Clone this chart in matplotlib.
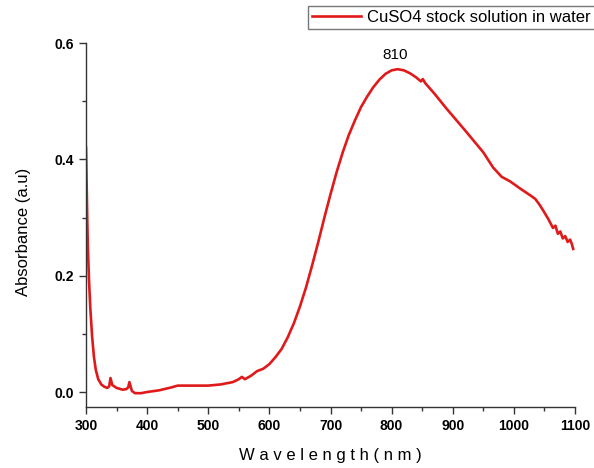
import numpy as np
import matplotlib
matplotlib.use("Agg")
import matplotlib.pyplot as plt
from matplotlib.ticker import MultipleLocator, FormatStrFormatter

plt.rcParams['font.family'] = ['Liberation Sans', 'DejaVu Sans']

# UV-Vis spectrum
wavelength = [300, 301, 302, 303, 305, 307, 310, 313, 316, 320, 325, 330, 335, 338, 340, 343,
              350, 360, 366, 369, 371, 375, 380, 390, 400, 420, 440, 450, 460, 480, 500,
              520, 540, 550, 555, 560, 570, 580, 590, 600, 610, 620, 630, 640, 650, 660,
              670, 680, 690, 700, 710, 720, 730, 740, 750, 760, 770, 780, 790, 800, 810,
              820, 830, 840, 848, 851, 855, 870, 890, 920, 950, 966, 980, 994, 1010,
              1027, 1035, 1042, 1048, 1056, 1060, 1064, 1068, 1072, 1076, 1080, 1084, 1088,
              1092, 1095, 1097]
absorbance = [0.420, 0.36, 0.30, 0.25, 0.19, 0.145, 0.095, 0.060, 0.038, 0.022, 0.013, 0.009,
              0.007, 0.010, 0.024, 0.012, 0.007, 0.004, 0.005, 0.008, 0.017, 0.002, -0.002,
              -0.002, 0.000, 0.003, 0.008, 0.011, 0.011, 0.011, 0.011, 0.013, 0.017, 0.022,
              0.026, 0.022, 0.028, 0.036, 0.040, 0.048, 0.060, 0.074, 0.094, 0.118, 0.147,
              0.180, 0.218, 0.258, 0.300, 0.340, 0.378, 0.412, 0.442, 0.467, 0.490, 0.508,
              0.524, 0.537, 0.547, 0.553, 0.555, 0.553, 0.548, 0.541, 0.534, 0.538, 0.531,
              0.513, 0.487, 0.450, 0.412, 0.386, 0.370, 0.362, 0.350, 0.338, 0.332, 0.322,
              0.312, 0.298, 0.290, 0.282, 0.286, 0.272, 0.276, 0.264, 0.268, 0.258, 0.262,
              0.254, 0.246]

peak_x, peak_y = 810, 0.555

fig = plt.figure(figsize=(5.94, 4.68), dpi=100)
ax = fig.add_axes([0.1448, 0.1303, 0.8232, 0.7778])

line, = ax.plot(wavelength, absorbance, color="#e01a1a", linewidth=1.9,
                label="CuSO4 stock solution in water", solid_joinstyle="round")

ax.annotate("810", (peak_x, peak_y), textcoords="offset points", xytext=(-2, 5),
            ha="center", va="bottom", fontsize=11)

ax.set_xlim(300, 1100)
ax.set_ylim(-0.0258, 0.6)
ax.xaxis.set_major_locator(MultipleLocator(100))
ax.xaxis.set_minor_locator(MultipleLocator(50))
ax.yaxis.set_major_locator(MultipleLocator(0.2))
ax.yaxis.set_minor_locator(MultipleLocator(0.1))
ax.yaxis.set_major_formatter(FormatStrFormatter("%.1f"))

for s in ["top", "right"]:
    ax.spines[s].set_visible(False)
for s in ["left", "bottom"]:
    ax.spines[s].set_linewidth(1.0)
    ax.spines[s].set_color("#333333")

ax.tick_params(which="major", direction="out", length=5, width=1.0, color="#333333",
               labelsize=10)
ax.tick_params(which="minor", direction="out", length=3, width=1.0, color="#333333")
for lbl in ax.get_xticklabels() + ax.get_yticklabels():
    lbl.set_fontweight("bold")

ax.set_xlabel("W a v e l e n g t h ( n m )", fontsize=12, labelpad=11)
ax.set_ylabel("Absorbance (a.u)", fontsize=12)
ax.yaxis.set_label_coords(-0.113, 0.48)

fig.legend(handles=[line], loc="upper left", bbox_to_anchor=(308 / 594, 1 - 6 / 468),
           fontsize=12, frameon=True, fancybox=False, edgecolor="#555555",
           handlelength=2.9, borderpad=0.25, handletextpad=0.4, borderaxespad=0)

fig.savefig("out.png", dpi=100)
